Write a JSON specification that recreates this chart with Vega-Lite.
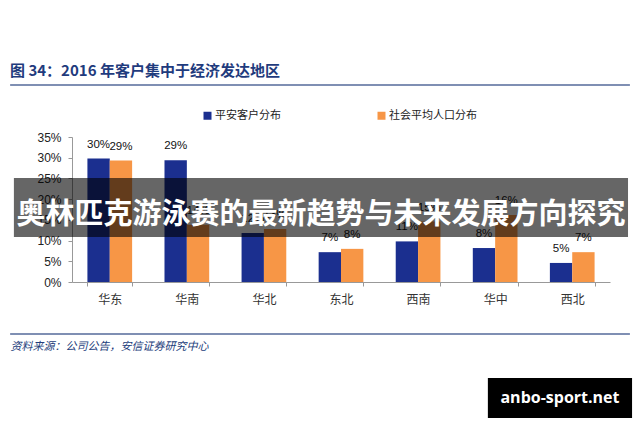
{
  "$schema": "https://vega.github.io/schema/vega-lite/v6.json",
  "width": 538,
  "height": 145,
  "autosize": {"type": "none"},
  "padding": {"left": 72, "top": 137, "right": 30, "bottom": 144},
  "background": "white",
  "config": {"view": {"stroke": null}},
  "title": {
    "text": "图 34：2016 年客户集中于经济发达地区",
    "anchor": "start",
    "frame": "group",
    "dx": -62,
    "font": "Noto Sans CJK SC",
    "fontSize": 15,
    "fontWeight": "bold",
    "color": "#1f3b7d",
    "offset": 5
  },
  "resolve": {"scale": {"x": "independent", "y": "independent"}, "axis": {"x": "independent", "y": "independent"}},
  "layer": [
    {
      "data": {
        "values": [
          {"region": "华东", "series": "平安客户分布", "value": 29.8, "label": "30%"},
          {"region": "华东", "series": "社会平均人口分布", "value": 29.3, "label": "29%"},
          {"region": "华南", "series": "平安客户分布", "value": 29.4, "label": "29%"},
          {"region": "华南", "series": "社会平均人口分布", "value": 13.8, "label": "14%"},
          {"region": "华北", "series": "平安客户分布", "value": 11.8, "label": "12%"},
          {"region": "华北", "series": "社会平均人口分布", "value": 12.8, "label": "13%"},
          {"region": "东北", "series": "平安客户分布", "value": 7.2, "label": "7%"},
          {"region": "东北", "series": "社会平均人口分布", "value": 8.0, "label": "8%"},
          {"region": "西南", "series": "平安客户分布", "value": 9.8, "label": "11%"},
          {"region": "西南", "series": "社会平均人口分布", "value": 14.6, "label": "15%"},
          {"region": "华中", "series": "平安客户分布", "value": 8.2, "label": "8%"},
          {"region": "华中", "series": "社会平均人口分布", "value": 16.2, "label": "16%"},
          {"region": "西北", "series": "平安客户分布", "value": 4.6, "label": "5%"},
          {"region": "西北", "series": "社会平均人口分布", "value": 7.2, "label": "7%"}
        ]
      },
      "encoding": {
        "x": {
          "field": "region",
          "type": "nominal",
          "sort": ["华东", "华南", "华北", "东北", "西南", "华中", "西北"],
          "scale": {"paddingInner": 0.42, "paddingOuter": 0.2},
          "axis": {
            "title": "资料来源：公司公告，安信证券研究中心",
            "titleFont": "Noto Sans CJK SC",
            "titleFontStyle": "italic",
            "titleFontSize": 11,
            "titleFontWeight": "normal",
            "titleColor": "#233d7b",
            "titleX": -62,
            "titleY": 64,
            "titleAlign": "left",
            "titleBaseline": "middle",
            "labelAngle": 0,
            "labelFont": "Noto Sans CJK SC",
            "labelFontSize": 12,
            "labelColor": "#333333",
            "labelPadding": 8,
            "tickBand": "extent",
            "tickSize": 4,
            "tickColor": "#999999",
            "domainColor": "#999999",
            "grid": false
          }
        },
        "y": {
          "field": "value",
          "type": "quantitative",
          "scale": {"domain": [0, 35], "nice": false},
          "axis": {
            "title": null,
            "values": [0, 5, 10, 15, 20, 25, 30, 35],
            "labelExpr": "datum.value + '%'",
            "labelFont": "Liberation Sans",
            "labelFontSize": 12,
            "labelColor": "#222222",
            "labelPadding": 7,
            "labelOverlap": false,
            "tickSize": 4,
            "tickColor": "#999999",
            "domainColor": "#999999",
            "grid": false
          }
        },
        "xOffset": {"field": "series", "type": "nominal", "sort": ["平安客户分布", "社会平均人口分布"], "scale": {"paddingInner": 0}}
      },
      "layer": [
        {
          "mark": {"type": "bar"},
          "encoding": {
            "color": {
              "field": "series",
              "type": "nominal",
              "scale": {"domain": ["平安客户分布", "社会平均人口分布"], "range": ["#1b2f8f", "#f79646"]},
              "legend": {
                "title": null,
                "orient": "none",
                "legendX": 130,
                "legendY": -27,
                "direction": "horizontal",
                "symbolType": "square",
                "symbolSize": 64,
                "symbolStrokeWidth": 0,
                "labelFont": "Noto Sans CJK SC",
                "labelFontSize": 11,
                "labelColor": "#222222",
                "labelOffset": 2,
                "columnPadding": 95
              }
            }
          }
        },
        {
          "mark": {"type": "text", "baseline": "alphabetic", "dy": -11, "font": "Liberation Sans", "fontSize": 11.5, "color": "#111111"},
          "encoding": {"text": {"field": "label", "type": "nominal"}}
        }
      ]
    },
    {
      "data": {"values": [{"t": "奥林匹克游泳赛的最新趋势与未来发展方向探究", "w": "anbo-sport.net"}]},
      "layer": [
        {
          "mark": {"type": "rect", "color": "#000000", "opacity": 0.6},
          "encoding": {
            "x": {"datum": -0.108, "type": "quantitative", "scale": {"domain": [0, 1], "nice": false, "zero": false}, "axis": null},
            "x2": {"datum": 1.0335},
            "y": {"datum": 0.717, "type": "quantitative", "scale": {"domain": [0, 1], "nice": false, "zero": false}, "axis": null},
            "y2": {"datum": 0.31}
          }
        },
        {
          "mark": {"type": "text", "font": "Noto Sans CJK SC", "fontWeight": "bold", "fontSize": 29, "color": "#ffffff", "baseline": "middle", "align": "center"},
          "encoding": {
            "x": {"datum": 0.4628, "type": "quantitative"},
            "y": {"datum": 0.462, "type": "quantitative"},
            "text": {"field": "t", "type": "nominal"}
          }
        },
        {
          "mark": {"type": "rect", "color": "#000000"},
          "encoding": {
            "x": {"datum": 0.773, "type": "quantitative"},
            "x2": {"datum": 1.041},
            "y": {"datum": -0.662, "type": "quantitative"},
            "y2": {"datum": -0.938}
          }
        },
        {
          "mark": {"type": "text", "font": "Open Sans", "fontWeight": "bold", "fontSize": 16, "color": "#ffffff", "baseline": "middle", "align": "center"},
          "encoding": {
            "x": {"datum": 0.907, "type": "quantitative"},
            "y": {"datum": -0.8, "type": "quantitative"},
            "text": {"field": "w", "type": "nominal"}
          }
        },
        {
          "mark": {"type": "rect", "fill": "#7f8fb3", "opacity": 1},
          "encoding": {
            "x": {"datum": -0.115, "type": "quantitative"},
            "x2": {"datum": 1.037},
            "y": {"datum": 1.366, "type": "quantitative"},
            "y2": {"datum": 1.352}
          }
        },
        {
          "mark": {"type": "rect", "fill": "#7f8fb3", "opacity": 1},
          "encoding": {
            "x": {"datum": -0.115, "type": "quantitative"},
            "x2": {"datum": 1.037},
            "y": {"datum": -0.352, "type": "quantitative"},
            "y2": {"datum": -0.366}
          }
        }
      ]
    }
  ]
}
